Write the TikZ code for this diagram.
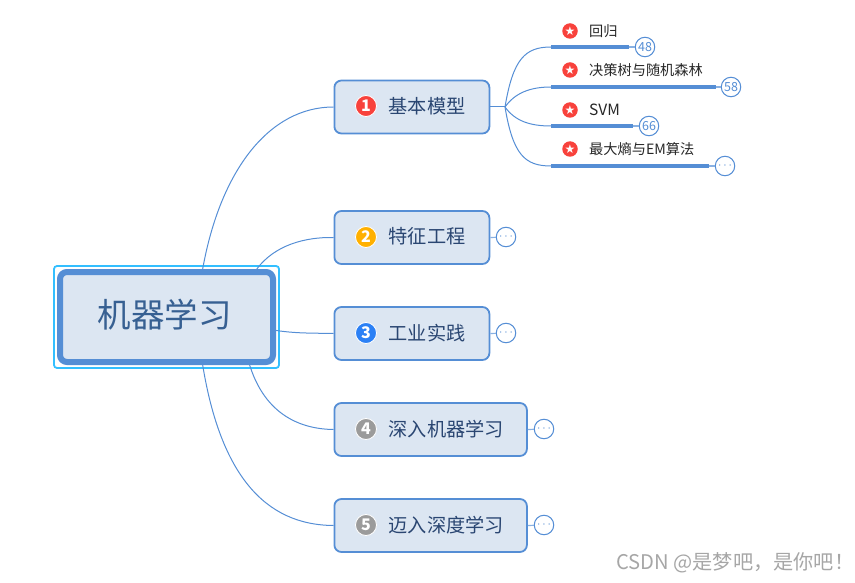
\documentclass[tikz,border=0pt]{standalone}
\usepackage{fontspec}
\setmainfont{Noto Sans CJK SC}
\newfontfamily\symfont{DejaVu Sans}
\usetikzlibrary{positioning, calc}
\definecolor{linkblue}{HTML}{558ED5}
\definecolor{boxfill}{HTML}{DCE6F2}
\definecolor{seltone}{HTML}{33BFFF}
\definecolor{rootink}{HTML}{376092}
\definecolor{topicink}{HTML}{2A4672}
\definecolor{prired}{HTML}{F8423C}
\definecolor{priyellow}{HTML}{FFB000}
\definecolor{priblue}{HTML}{2B80F5}
\definecolor{prigray}{HTML}{9B9B9B}

\begin{document}
\begin{tikzpicture}[
  x=1pt, y=-1pt,
  rootbox/.style={
    draw=linkblue, fill=boxfill, line width=6pt, rounded corners=7pt,
    minimum width=213pt, minimum height=90pt, inner sep=0pt
  },
  selbox/.style={
    draw=seltone, line width=1.8pt, rounded corners=3pt,
    minimum width=225pt, minimum height=102pt, inner sep=0pt
  },
  topic/.style={
    draw=linkblue, fill=boxfill, line width=1.8pt, rounded corners=7pt,
    minimum height=53pt, inner sep=0pt, anchor=west
  },
  lbl/.style={text=topicink, font=\fontsize{19.2}{22}\selectfont, anchor=west, inner sep=0pt},
  sublbl/.style={text=black!85, font=\fontsize{14.2}{16}\selectfont, anchor=west, inner sep=0pt},
  pri/.style={
    circle, draw=white, line width=0.8pt, minimum size=21pt, inner sep=0pt,
    text=white, font=\fontsize{16}{16}\selectfont\bfseries
  },
  starpri/.style={
    circle, fill=prired, minimum size=15.5pt, inner sep=0pt,
    text=white, font=\symfont\fontsize{12}{12}\selectfont
  },
  subbar/.style={fill=linkblue, minimum height=3.6pt, inner sep=0pt, anchor=west},
  badge/.style={
    circle, draw=linkblue, fill=white, line width=1pt, minimum size=19.5pt, inner sep=0pt,
    text=linkblue, font=\fontsize{12.5}{12.5}\selectfont
  },
  link/.style={draw=linkblue, line width=1pt},
  stub/.style={draw=linkblue!70, line width=1.2pt},
]
  \useasboundingbox (0,0) rectangle (855,583);

  % --- Centre ---
  \node[selbox] (sel) at (166.5,317) {};
  \node[rootbox] (root) at (166.5,317) {};
  \node[text=rootink, font=\fontsize{33.5}{38}\selectfont] (rootlbl) at (164.5,315) {机器学习};

  % --- Main branches ---
  \node[topic, minimum width=155pt] (topic1) at (333.5,107) {};
  \node[pri, fill=prired] (pri1) at (366,106) {1};
  \node[lbl] (lbl1) at (388.5,106) {基本模型};

  \node[topic, minimum width=155pt] (topic2) at (333.5,237.5) {};
  \node[pri, fill=priyellow] (pri2) at (366,237) {2};
  \node[lbl] (lbl2) at (388.5,236) {特征工程};
  \node[badge] (more2) at (506,237) {$\cdots$};

  \node[topic, minimum width=155pt] (topic3) at (333.5,333.5) {};
  \node[pri, fill=priblue] (pri3) at (366,333) {3};
  \node[lbl] (lbl3) at (388.5,333) {工业实践};
  \node[badge] (more3) at (506,333) {$\cdots$};

  \node[topic, minimum width=192.5pt] (topic4) at (333.5,429.5) {};
  \node[pri, fill=prigray] (pri4) at (366,429) {4};
  \node[lbl] (lbl4) at (388.5,429) {深入机器学习};
  \node[badge] (more4) at (544,429) {$\cdots$};

  \node[topic, minimum width=192.5pt] (topic5) at (333.5,525.5) {};
  \node[pri, fill=prigray] (pri5) at (366,525) {5};
  \node[lbl] (lbl5) at (388.5,525) {迈入深度学习};
  \node[badge] (more5) at (544,525) {$\cdots$};

  % --- Sub branches of the first topic ---
  \coordinate (hub) at (505,107);

  \node[subbar, minimum width=78pt] (sub1) at (551,47) {};
  \node[starpri] (star1) at (570,31) {★};
  \node[sublbl] (sublbl1) at (589,31) {回归};
  \node[badge] (count1) at (645,47) {48};

  \node[subbar, minimum width=165pt] (sub2) at (551,87) {};
  \node[starpri] (star2) at (570,70) {★};
  \node[sublbl] (sublbl2) at (589,70) {决策树与随机森林};
  \node[badge] (count2) at (731,87) {58};

  \node[subbar, minimum width=82pt] (sub3) at (551,126) {};
  \node[starpri] (star3) at (570,110) {★};
  \node[sublbl, font=\fontsize{15.5}{16}\selectfont] (sublbl3) at (589,109.5) {SVM};
  \node[badge] (count3) at (649,126) {66};

  \node[subbar, minimum width=158pt] (sub4) at (551,166) {};
  \node[starpri] (star4) at (570,149) {★};
  \node[sublbl] (sublbl4) at (589,149) {最大熵与EM算法};
  \node[badge] (more6) at (725,166) {$\cdots$};

  % --- Connectors ---
  \draw[link] (root.53) .. controls +(18,-100) and (270,107) .. (topic1.west);
  \draw[link] (root.28) .. controls +(18,-24) and (305,237) .. (topic2.west);
  \draw[link] (root.-7) .. controls +(20,3) and (310,333) .. (topic3.west);
  \draw[link] (root.-30) .. controls +(14,45) and (295,429) .. (topic4.west);
  \draw[link] (root.-53) .. controls +(18,110) and (265,525) .. (topic5.west);

  \draw[link] (topic1.east) -- (hub);
  \draw[link] (hub) .. controls +(8,-48) and (525,47) .. (sub1.west);
  \draw[link] (hub) .. controls +(10,-14) and (530,87) .. (sub2.west);
  \draw[link] (hub) .. controls +(10,14) and (530,126) .. (sub3.west);
  \draw[link] (hub) .. controls +(8,48) and (525,166) .. (sub4.west);

  \draw[stub] (sub1.east) -- (count1);
  \draw[stub] (sub2.east) -- (count2);
  \draw[stub] (sub3.east) -- (count3);
  \draw[stub] (sub4.east) -- (more6);
  \draw[stub] (topic2.east) -- (more2);
  \draw[stub] (topic3.east) -- (more3);
  \draw[stub] (topic4.east) -- (more4);
  \draw[stub] (topic5.east) -- (more5);

  % --- Watermark ---
  \node[anchor=west, inner sep=0pt, text=black!35, font=\fontsize{20.2}{24}\selectfont] (mark) at (616,563) {CSDN @是梦吧，是你吧！};

\end{tikzpicture}
\end{document}
